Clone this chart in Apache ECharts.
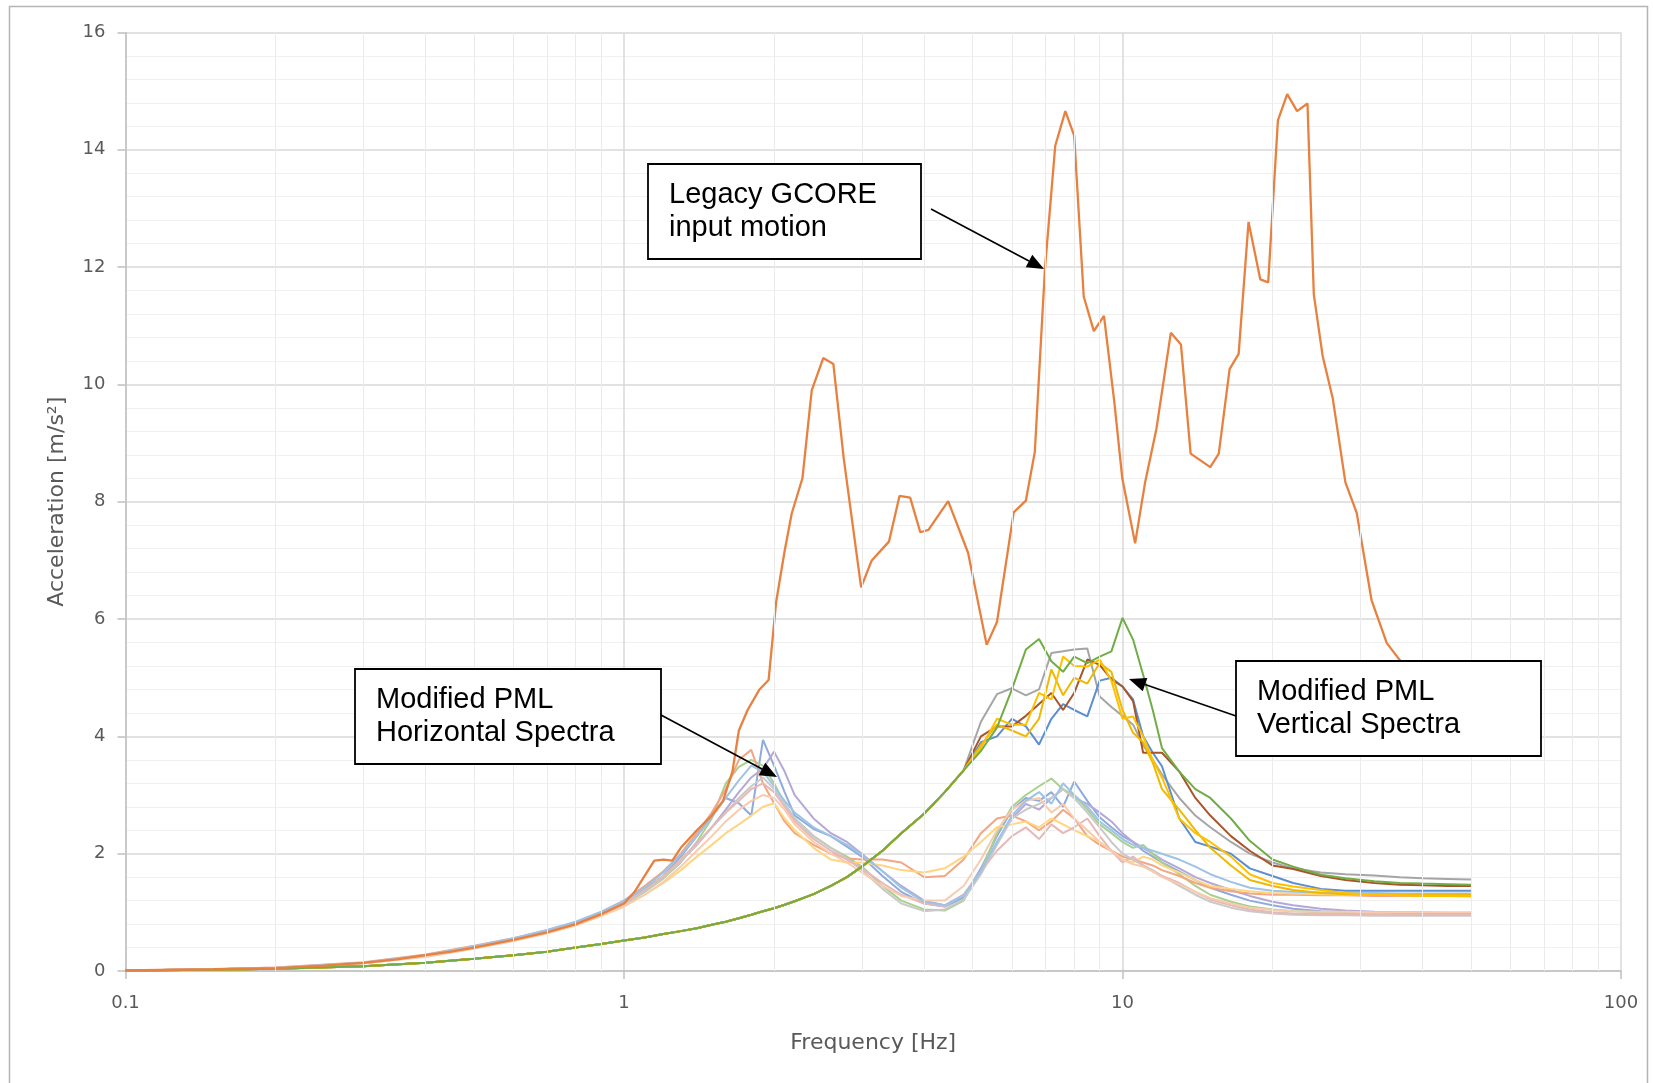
<!DOCTYPE html>
<html>
<head>
<meta charset="utf-8">
<script src="https://cdn.jsdelivr.net/npm/echarts@6/dist/echarts.min.js"></script>
<style>
html,body{margin:0;padding:0;background:#ffffff;}
#chart{width:1653px;height:1083px;}
</style>
</head>
<body>
<div id="chart"></div>
<script>
// ---------------- DATA ----------------
const xTickLabels = [0.1, 1, 10, 100];
const yTickLabels = [0, 2, 4, 6, 8, 10, 12, 14, 16];
const minorFreqLines = [0.2,0.3,0.4,0.5,0.6,0.7,0.8,0.9, 2,3,4,5,6,7,8,9, 20,30,40,50,60,70,80,90];

// Legacy GCORE input motion
const gcoreFreq = [0.1,0.15,0.2,0.25,0.3,0.35,0.4,0.45,0.5,0.6,0.7,0.8,0.9,1.0,1.05,1.1,1.15,1.2,1.25,1.3,
  1.4,1.5,1.58,1.65,1.7,1.77,1.87,1.95,2.02,2.1,2.17,2.28,2.38,2.51,2.63,2.76,2.99,3.14,3.4,3.57,
  3.75,3.93,4.08,4.47,4.9,5.34,5.6,6.05,6.4,6.67,6.99,7.33,7.68,8.0,8.36,8.76,9.18,9.63,9.99,10.6,
  11.1,11.7,12.5,13.1,13.7,15.0,15.6,16.4,17.1,17.9,18.9,19.6,20.5,21.4,22.4,23.5,24.2,25.2,26.4,28.0,
  29.5,31.6,33.9,36,40,45,50];
const gcoreAcc = [0.01,0.03,0.05,0.09,0.14,0.2,0.27,0.33,0.4,0.53,0.66,0.8,0.97,1.15,1.35,1.62,1.88,1.9,1.88,2.1,
  2.4,2.65,2.9,3.4,4.1,4.45,4.8,4.96,6.3,7.16,7.8,8.4,9.9,10.45,10.35,8.73,6.54,7.0,7.32,8.1,
  8.07,7.48,7.52,8.01,7.13,5.56,5.95,7.82,8.02,8.85,11.98,14.07,14.66,14.24,11.5,10.91,11.17,9.7,8.4,7.29,
  8.33,9.25,10.88,10.68,8.82,8.59,8.82,10.26,10.52,12.77,11.79,11.74,14.5,14.95,14.66,14.79,11.53,10.49,9.77,8.33,
  7.81,6.32,5.59,5.3,4.9,4.5,4.2];

// Frequency grid of the modified PML spectra [Hz]
const pmlFreq = [0.1,0.15,0.2,0.3,0.4,0.5,0.6,0.7,0.8,0.9,
  1.0,1.1,1.2,1.3,1.4,1.5,1.6,1.7,1.8,1.9,2.0,2.1,2.2,
  2.4,2.6,2.8,3.0,3.3,3.6,4.0,4.4,4.8,5.2,5.6,6.0,6.4,6.8,7.2,7.6,8.0,8.5,9.0,9.5,10,10.5,11,11.5,12,
  13,14,15,16.5,18,20,22,25,28,32,36,40,45,50];

// Modified PML horizontal spectra [m/s2]
const hSpec1 = [0.01,0.03,0.05,0.14,0.27,0.42,0.55,0.68,0.83,1.0,
  1.18,1.4,1.62,1.95,2.3,2.65,2.95,2.86,2.65,3.94,3.5,3.05,2.65,
  2.42,2.3,2.12,1.95,1.62,1.35,1.15,1.1,1.25,1.75,2.3,2.75,2.95,2.9,3.05,2.8,3.23,2.9,2.62,2.45,2.3,2.2,2.05,1.95,1.85,
  1.7,1.55,1.42,1.3,1.2,1.12,1.06,1.02,1.0,1.0,0.99,0.99,0.98,0.98];
const hSpec2 = [0.01,0.03,0.05,0.13,0.26,0.41,0.54,0.67,0.81,0.98,
  1.15,1.36,1.6,1.88,2.15,2.45,2.75,3.05,3.3,3.45,3.74,3.4,3.0,
  2.6,2.35,2.2,2.0,1.7,1.45,1.2,1.12,1.3,1.7,2.2,2.6,2.85,2.75,2.95,3.1,2.95,2.85,2.7,2.55,2.35,2.2,2.1,2.0,1.9,
  1.75,1.6,1.5,1.38,1.28,1.18,1.12,1.06,1.03,1.01,1.0,1.0,0.99,0.99];
const hSpec3 = [0.01,0.03,0.05,0.13,0.25,0.4,0.53,0.66,0.8,0.96,
  1.13,1.35,1.58,1.85,2.2,2.6,3.2,3.48,3.6,3.5,3.2,2.85,2.6,
  2.3,2.1,1.95,1.78,1.45,1.2,1.05,1.03,1.2,1.7,2.35,2.8,3.0,3.15,3.28,3.1,3.0,2.75,2.5,2.35,2.2,2.1,2.15,2.0,1.85,
  1.65,1.45,1.3,1.18,1.1,1.05,1.02,1.0,0.99,1.0,0.99,0.99,0.99,0.99];
const hSpec4 = [0.01,0.03,0.06,0.15,0.28,0.43,0.56,0.69,0.83,1.0,
  1.2,1.45,1.7,2.0,2.35,2.7,3.1,3.6,3.77,3.2,2.86,2.55,2.35,
  2.15,2.0,1.92,1.9,1.9,1.85,1.6,1.62,1.9,2.35,2.6,2.65,2.55,2.4,2.55,2.75,2.6,2.3,2.15,2.05,1.95,1.9,1.85,1.8,1.72,
  1.62,1.5,1.42,1.36,1.32,1.3,1.3,1.29,1.29,1.28,1.28,1.28,1.28,1.28];
const hSpec5 = [0.01,0.03,0.05,0.13,0.25,0.39,0.52,0.65,0.78,0.94,
  1.1,1.3,1.5,1.72,1.95,2.15,2.35,2.5,2.65,2.8,2.86,2.6,2.4,
  2.1,1.9,1.85,1.85,1.8,1.72,1.68,1.75,1.95,2.2,2.45,2.5,2.55,2.45,2.6,2.5,2.4,2.3,2.2,2.05,1.9,1.85,1.95,1.9,1.8,
  1.68,1.55,1.45,1.4,1.36,1.33,1.32,1.31,1.3,1.3,1.29,1.29,1.29,1.29];
const hSpec6 = [0.01,0.03,0.05,0.13,0.26,0.41,0.54,0.67,0.81,0.97,
  1.14,1.36,1.6,1.87,2.15,2.45,2.7,2.95,3.15,3.3,3.1,2.85,2.6,
  2.3,2.1,1.92,1.72,1.4,1.15,1.02,1.05,1.22,1.65,2.15,2.6,2.75,2.85,2.95,3.1,2.95,2.7,2.45,2.2,2.0,1.9,1.8,1.72,1.62,
  1.45,1.3,1.18,1.08,1.02,0.98,0.96,0.95,0.95,0.94,0.94,0.94,0.94,0.94];
const hSpec7 = [0.01,0.03,0.06,0.14,0.27,0.42,0.55,0.68,0.82,0.99,
  1.16,1.38,1.62,1.9,2.18,2.45,2.7,2.9,3.1,3.2,3.05,2.8,2.55,
  2.25,2.05,1.9,1.75,1.5,1.3,1.15,1.1,1.3,1.7,2.05,2.3,2.45,2.25,2.5,2.35,2.45,2.6,2.3,2.05,1.85,1.95,1.8,1.7,1.62,
  1.5,1.35,1.22,1.12,1.05,1.0,0.98,0.97,0.97,0.97,0.96,0.96,0.96,0.96];
const hSpec8 = [0.01,0.03,0.05,0.13,0.24,0.38,0.51,0.64,0.78,0.94,
  1.1,1.3,1.52,1.78,2.05,2.3,2.55,2.75,2.9,3.0,2.95,2.75,2.5,
  2.2,2.0,1.85,1.68,1.45,1.28,1.2,1.2,1.45,1.9,2.4,2.75,2.9,2.95,2.7,2.85,2.6,2.4,2.2,2.05,1.9,1.82,1.78,1.7,1.6,
  1.48,1.35,1.24,1.15,1.08,1.04,1.02,1.01,1.01,1.0,1.0,1.0,1.0,1.0];
const hSpec9 = [0.01,0.03,0.05,0.14,0.27,0.42,0.56,0.7,0.84,1.01,
  1.2,1.42,1.68,1.98,2.3,2.62,2.95,3.25,3.5,3.4,3.15,2.9,2.7,
  2.45,2.3,2.15,1.98,1.7,1.42,1.18,1.12,1.28,1.7,2.2,2.65,2.9,3.05,2.85,3.2,3.0,2.8,2.55,2.4,2.25,2.15,2.1,2.05,2.0,
  1.9,1.78,1.65,1.52,1.42,1.37,1.35,1.34,1.33,1.33,1.32,1.32,1.32,1.32];

// Modified PML vertical spectra: shared low-frequency part (0.1 - 4.8 Hz), then each record (5.2 - 50 Hz)
const vertLowAcc = [0.01,0.02,0.04,0.08,0.14,0.21,0.27,0.33,0.4,0.46,
  0.52,0.57,0.63,0.68,0.73,0.79,0.84,0.9,0.96,1.02,1.07,1.13,1.19,
  1.31,1.45,1.6,1.78,2.05,2.35,2.68,3.05,3.42];
const vGreenTail  = [3.75,4.15,4.8,5.48,5.66,5.28,5.1,5.36,5.25,5.36,5.45,6.02,5.65,5.05,4.45,3.8,3.4,3.1,2.95,2.6,2.22,1.9,1.78,1.64,1.58,1.53,1.5,1.49,1.48,1.47];
const vGrayTail   = [4.25,4.72,4.82,4.7,4.8,5.42,5.45,5.48,5.5,4.68,4.5,4.35,4.2,3.85,3.6,3.35,2.95,2.65,2.45,2.2,2.0,1.85,1.75,1.68,1.65,1.63,1.6,1.58,1.57,1.56];
const vGoldTail   = [3.8,4.3,4.2,4.2,4.74,4.63,5.36,5.2,5.19,5.31,4.95,4.3,4.34,4.0,3.6,3.3,2.6,2.35,2.2,1.95,1.65,1.5,1.44,1.38,1.33,1.3,1.29,1.28,1.28,1.27];
const vBrownTail  = [4.0,4.17,4.17,4.35,4.55,4.74,4.45,4.74,5.31,5.22,4.97,4.85,4.6,3.72,3.72,3.72,3.4,2.95,2.65,2.3,2.05,1.8,1.74,1.62,1.55,1.5,1.47,1.46,1.45,1.45];
const vBlueTail   = [3.9,4.0,4.3,4.17,3.86,4.3,4.55,4.45,4.34,4.95,5.0,4.85,4.63,4.0,3.72,3.49,2.6,2.2,2.12,2.0,1.75,1.62,1.5,1.4,1.37,1.37,1.37,1.37,1.37,1.37];
const vYellowTail = [3.85,4.2,4.1,4.0,4.3,5.14,4.7,5.0,4.9,5.25,5.1,4.45,4.06,3.9,3.55,3.1,2.75,2.4,2.1,1.8,1.55,1.45,1.38,1.33,1.31,1.3,1.3,1.3,1.3,1.3];

// Annotation texts
const annoGcore = ['Legacy GCORE', 'input motion'];
const annoHoriz = ['Modified PML', 'Horizontal Spectra'];
const annoVert  = ['Modified PML', 'Vertical Spectra'];

// ---------------- CHART ----------------
const chart = echarts.init(document.getElementById('chart'), null, {renderer: 'canvas'});

function pairs(freq, vals) { return freq.map((f, i) => [f, vals[i]]); }

const hColors = ['#8FAADC', '#B4A9D6', '#A9D18E', '#F4A582', '#FFD580', '#C9C9C9', '#E6B8B7', '#F8CBAD', '#9DC3E6'];
const hList = [hSpec1, hSpec2, hSpec3, hSpec4, hSpec5, hSpec6, hSpec7, hSpec8, hSpec9];
const vColors = ['#A5A5A5', '#5B8FD0', '#A8552A', '#F0B800', '#FFC000', '#70AD47'];
const vList = [vGrayTail, vBlueTail, vBrownTail, vYellowTail, vGoldTail, vGreenTail];

const series = [];
// minor vertical gridlines (log decades 2..9)
series.push({
  type: 'line', data: [[0.1, 0]], symbol: 'none', z: 0,
  lineStyle: {opacity: 0}, silent: true,
  markLine: {
    silent: true, symbol: ['none', 'none'], label: {show: false}, animation: false,
    lineStyle: {color: '#EBEBEB', width: 1, type: 'solid'},
    data: minorFreqLines.map(v => ({xAxis: v}))
  }
});
hList.forEach((arr, k) => series.push({
  type: 'line', data: pairs(pmlFreq, arr), symbol: 'none', z: 2,
  lineStyle: {width: 2, color: hColors[k]}
}));
vList.forEach((arr, k) => series.push({
  type: 'line', data: pairs(pmlFreq, vertLowAcc.concat(arr)), symbol: 'none', z: 3,
  lineStyle: {width: 2, color: vColors[k]}
}));
series.push({
  type: 'line', data: pairs(gcoreFreq, gcoreAcc), symbol: 'none', z: 4,
  lineStyle: {width: 2.3, color: '#E8803F'}
});

// annotation helpers
function arrow(x1, y1, x2, y2) {
  const dx = x2 - x1, dy = y2 - y1, len = Math.hypot(dx, dy);
  const ux = dx / len, uy = dy / len, L = 17, W = 7;
  const bx = x2 - ux * L, by = y2 - uy * L;
  return [
    {type: 'line', z: 100, shape: {x1: x1, y1: y1, x2: bx, y2: by}, style: {stroke: '#000', lineWidth: 1.6}},
    {type: 'polygon', z: 100, shape: {points: [[x2, y2], [bx - uy * W, by + ux * W], [bx + uy * W, by - ux * W]]}, style: {fill: '#000'}}
  ];
}
function box(x, y, w, h, lines) {
  const els = [{type: 'rect', z: 100, shape: {x: x, y: y, width: w, height: h},
    style: {fill: '#fff', stroke: '#000', lineWidth: 1.8}}];
  lines.forEach((t, i) => els.push({type: 'text', z: 101, x: x + 21, y: y + 31 + i * 33,
    style: {text: t, font: '29px "Liberation Sans", Arial, sans-serif', fill: '#000', verticalAlign: 'middle', align: 'left'}}));
  return els;
}

const graphic = [
  {type: 'rect', z: 0, silent: true, shape: {x: 9.5, y: 6.5, width: 1638, height: 1090},
   style: {fill: 'none', stroke: '#B4B4B4', lineWidth: 1.5}}
].concat(
  arrow(931, 209, 1044, 269),
  box(648, 164, 273, 95, annoGcore),
  arrow(661, 715, 777, 777),
  box(355, 669, 306, 95, annoHoriz),
  arrow(1236, 716, 1129, 679),
  box(1236, 661, 305, 95, annoVert)
);

const axisFont = '"DejaVu Sans", "Open Sans", sans-serif';

chart.setOption({
  animation: false,
  backgroundColor: '#ffffff',
  grid: {left: 125.5, right: 32, top: 32.5, bottom: 112, containLabel: false},
  xAxis: {
    type: 'log', logBase: 10, min: xTickLabels[0], max: xTickLabels[xTickLabels.length - 1],
    name: 'Frequency [Hz]', nameLocation: 'middle', nameGap: 61,
    nameTextStyle: {color: '#595959', fontSize: 22, fontFamily: axisFont},
    axisLine: {show: true, lineStyle: {color: '#C0C0C0', width: 1.5}},
    axisTick: {show: true, length: 8, lineStyle: {color: '#C0C0C0', width: 1.5}},
    axisLabel: {color: '#595959', fontSize: 18, fontFamily: axisFont, margin: 23,
      formatter: v => String(+(+v).toPrecision(3))},
    splitLine: {show: true, lineStyle: {color: '#D9D9D9', width: 1.5}},
    minorTick: {show: false}, minorSplitLine: {show: false}
  },
  yAxis: {
    type: 'value', min: yTickLabels[0], max: yTickLabels[yTickLabels.length - 1], interval: 2,
    name: 'Acceleration [m/s\u00B2]', nameLocation: 'middle', nameGap: 57, nameRotate: 90,
    nameTextStyle: {color: '#595959', fontSize: 22, fontFamily: axisFont},
    axisLine: {show: true, lineStyle: {color: '#C0C0C0', width: 1.5}},
    axisTick: {show: true, length: 8, lineStyle: {color: '#C0C0C0', width: 1.5}},
    axisLabel: {color: '#595959', fontSize: 18, fontFamily: axisFont, margin: 20},
    splitLine: {show: true, lineStyle: {color: '#D9D9D9', width: 1.5}},
    minorTick: {show: false, splitNumber: 5},
    minorSplitLine: {show: true, lineStyle: {color: '#F0F0F0', width: 1.2}}
  },
  series: series,
  graphic: graphic
});
</script>
</body>
</html>
